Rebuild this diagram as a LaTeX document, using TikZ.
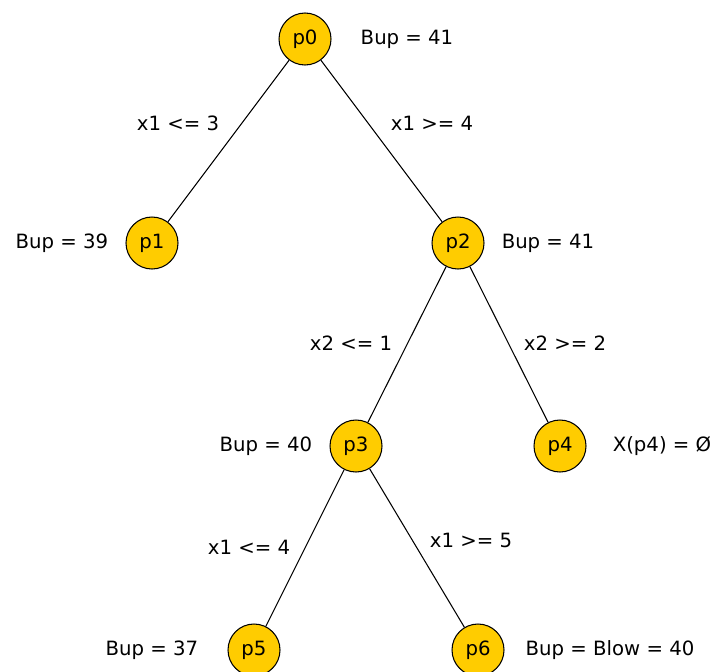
\documentclass[tikz,border=0pt]{standalone}
\usepackage{fontspec}
\setmainfont{DejaVu Sans}
\usetikzlibrary{positioning}
\definecolor{probF}{HTML}{FFCC00}
\definecolor{probD}{HTML}{000000}
\tikzset{
  prob/.style={circle, draw=probD, fill=probF, line width=0.6pt, minimum size=1.04cm,
               inner sep=0pt, font=\fontsize{11.2}{13}\selectfont},
  bound/.style={font=\fontsize{11.2}{13}\selectfont, inner sep=1pt},
  cut/.style={font=\fontsize{11.2}{13}\selectfont, inner sep=1pt},
  edge/.style={draw=black, line width=0.6pt},
}
\begin{document}
\begin{tikzpicture}
\useasboundingbox (0,0) rectangle (14.3,-13.42);
\node[prob] (p0) at (6.10,-0.78) {p0};
\node[prob] (p1) at (3.04,-4.86) {p1};
\node[prob] (p2) at (9.16,-4.86) {p2};
\node[prob] (p3) at (7.12,-8.92) {p3};
\node[prob] (p4) at (11.20,-8.92) {p4};
\node[prob] (p5) at (5.08,-13.00) {p5};
\node[prob] (p6) at (9.56,-13.00) {p6};
\node[bound] (b0) at (8.14,-0.78) {Bup = 41};
\node[bound] (b1) at (1.24,-4.86) {Bup = 39};
\node[bound] (b2) at (10.96,-4.86) {Bup = 41};
\node[bound] (b3) at (5.32,-8.92) {Bup = 40};
\node[bound] (b4) at (13.24,-8.92) {X(p4) = Ø};
\node[bound] (b5) at (3.04,-13.00) {Bup = 37};
\node[bound] (b6) at (12.20,-13.00) {Bup = Blow = 40};
\draw[edge] (p0) -- (p1);
\draw[edge] (p0) -- (p2);
\draw[edge] (p2) -- (p3);
\draw[edge] (p2) -- (p4);
\draw[edge] (p3) -- (p5);
\draw[edge] (p3) -- (p6);
\node[cut] (c01) at (3.56,-2.46) {x1 <= 3};
\node[cut] (c02) at (8.64,-2.46) {x1 >= 4};
\node[cut] (c23) at (7.02,-6.86) {x2 <= 1};
\node[cut] (c24) at (11.30,-6.86) {x2 >= 2};
\node[cut] (c35) at (4.98,-10.94) {x1 <= 4};
\node[cut] (c36) at (9.42,-10.80) {x1 >= 5};
\end{tikzpicture}
\end{document}
